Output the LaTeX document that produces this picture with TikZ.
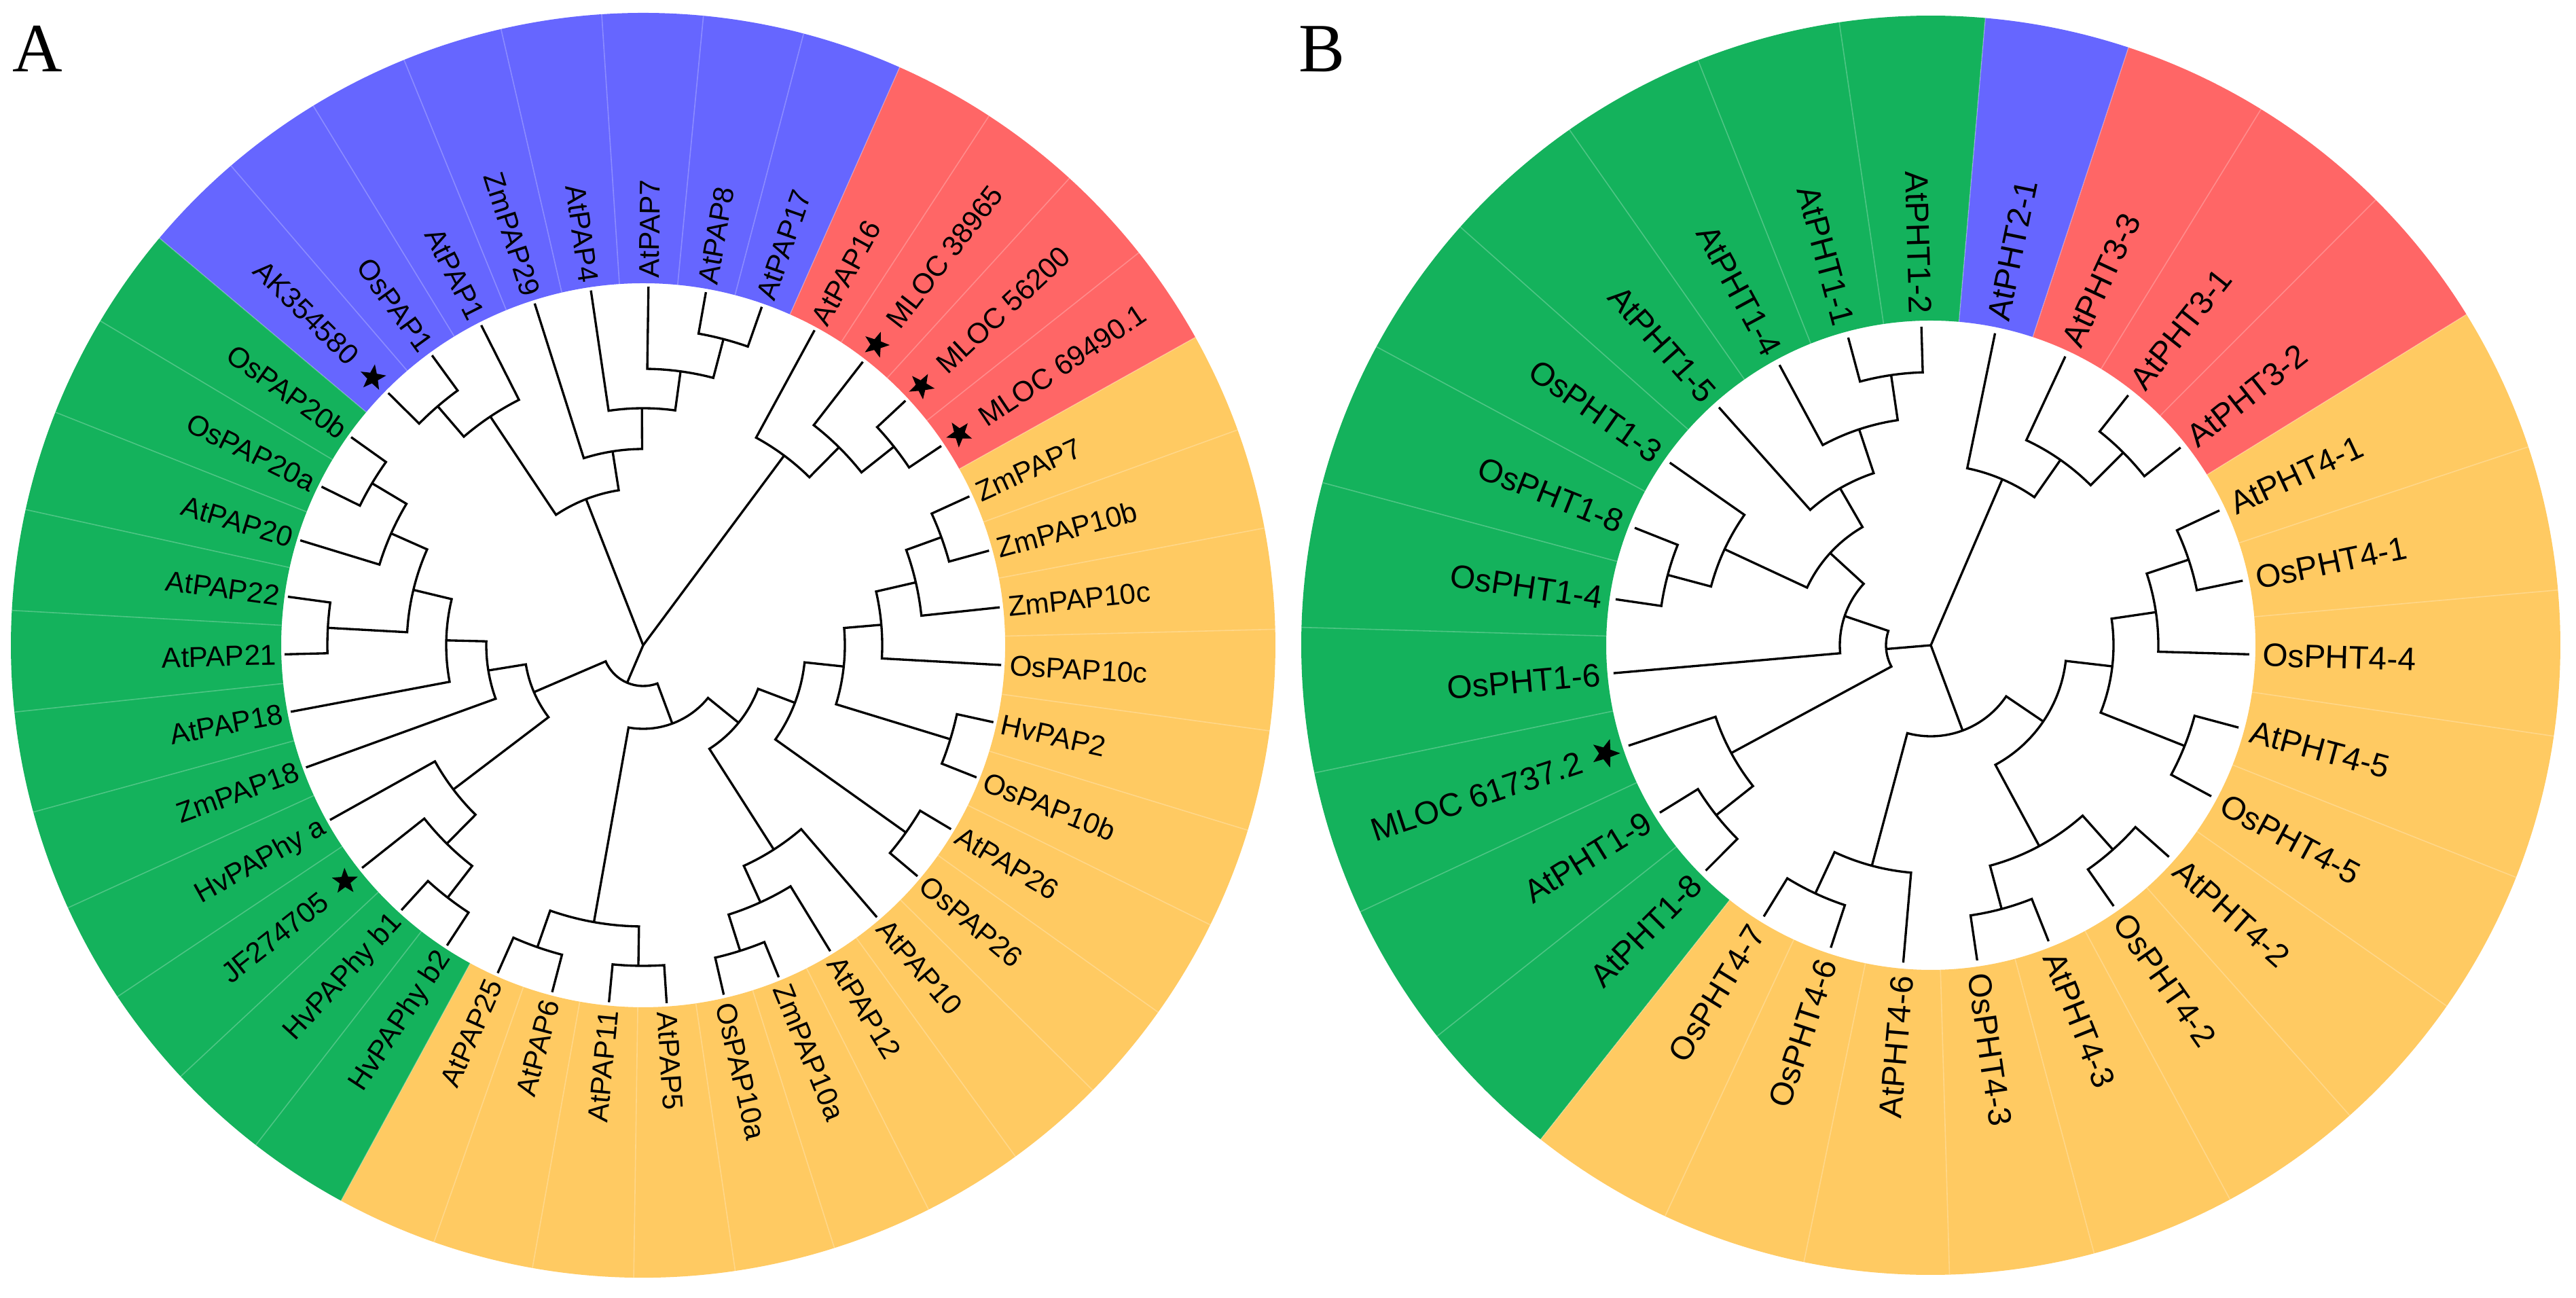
\documentclass[tikz,border=0pt]{standalone}
\usepackage{fontspec}
\newfontfamily\labfont{Liberation Sans}
\newfontfamily\panfont{Liberation Serif}
\usetikzlibrary{shapes.geometric}
\definecolor{cBlue}{RGB}{102,102,255}
\definecolor{cRed}{RGB}{255,102,102}
\definecolor{cYel}{RGB}{255,202,98}
\definecolor{cGrn}{RGB}{20,178,92}
\tikzset{
  br/.style={line width=0.95pt, draw=black, line join=miter},
  sepline/.style={draw=white, draw opacity=0.25, line width=0.45pt},
  labA/.style={font=\labfont\fontsize{12.0}{14}\selectfont, inner sep=0pt, text height=8.6pt, text depth=0pt},
  labB/.style={font=\labfont\fontsize{13.6}{15}\selectfont, inner sep=0pt, text height=9.7pt, text depth=0pt},
  mystar/.style={star, star points=5, star point ratio=2.4, fill=black, draw=none, inner sep=0pt, minimum size=0.40cm},
  panel/.style={font=\panfont\fontsize{29}{32}\selectfont, inner sep=0pt, anchor=base west}
}
% clade: radius, angle1, r1, angle2, r2
\newcommand{\cl}[5]{\draw[br] (#2:#3) -- (#2:#1) arc[start angle=#2, end angle=#4, radius=#1] -- (#4:#5);}
% sector: colour, a1, a2, rin, rout
\newcommand{\sector}[5]{\fill[#1] (#2:#4) arc[start angle=#2, end angle=#3, radius=#4] -- (#3:#5) arc[start angle=#3, end angle=#2, radius=#5] -- cycle;}
% label: name, angle, radius, text, style
\newcommand{\lbl}[5]{%
  \pgfmathsetmacro\cosv{cos(#2)}%
  \ifdim\cosv pt<0pt
    \pgfmathsetmacro\rr{#2+180}%
    \node[#5,anchor=east,rotate=\rr] (#1) at (#2:#3) {#4};
  \else
    \node[#5,anchor=west,rotate=#2] (#1) at (#2:#3) {#4};
  \fi}
\newcommand{\lfA}[3]{\pgfmathsetmacro\ang{135.3-9.2308*#2}\lbl{#1}{\ang}{5.40}{#3}{labA}}
\newcommand{\lfAs}[3]{\pgfmathsetmacro\ang{135.3-9.2308*#2}\node[mystar,rotate=\ang] (#1s) at (\ang:5.60) {};\lbl{#1}{\ang}{5.98}{#3}{labA}}
\newcommand{\lfB}[3]{\pgfmathsetmacro\ang{91.7-13.3333*#2}\lbl{#1}{\ang}{4.88}{#3}{labB}}
\newcommand{\lfBs}[3]{\pgfmathsetmacro\ang{91.7-13.3333*#2}\node[mystar,minimum size=0.44cm,rotate=\ang] (#1s) at (\ang:5.05) {};\lbl{#1}{\ang}{5.42}{#3}{labB}}
\def\TA{5.28}
\def\TB{4.69}
\begin{document}
\begin{tikzpicture}
\useasboundingbox (0,0) rectangle (37.93,19.10);
\fill[white] (0,0) rectangle (37.93,19.10);
\node[panel] (pA) at (0.18,18.04) {A};
\node[panel] (pB) at (19.12,18.04) {B};
% ================= TREE A =================
\begin{scope}[shift={(9.47,9.60)}]
\sector{cBlue}{139.915}{66.065}{5.33}{9.31}
\sector{cRed}{66.065}{29.145}{5.33}{9.31}
\sector{cYel}{29.145}{-118.545}{5.33}{9.31}
\sector{cGrn}{-118.545}{-220.085}{5.33}{9.31}
\foreach \k in {0,...,38} {\pgfmathsetmacro\a{139.915-9.2308*\k}\draw[sepline] (\a:5.33) -- (\a:9.31);}
% blue
\cl{4.64}{135.30}{\TA}{126.07}{\TA}
\cl{4.05}{130.685}{4.64}{116.84}{\TA}
\cl{4.66}{79.92}{\TA}{70.68}{\TA}
\cl{4.07}{89.15}{\TA}{75.30}{4.66}
\cl{3.49}{98.38}{\TA}{82.225}{4.07}
\cl{2.89}{107.61}{\TA}{90.30}{3.49}
\cl{2.31}{123.76}{4.05}{98.955}{2.89}
% red
\cl{4.71}{42.99}{\TA}{33.76}{\TA}
\cl{4.10}{52.22}{\TA}{38.375}{4.71}
\cl{3.48}{61.45}{\TA}{45.30}{4.10}
% yellow
\cl{4.67}{24.53}{\TA}{15.30}{\TA}
\cl{4.12}{19.915}{4.67}{6.07}{\TA}
\cl{3.52}{12.99}{4.12}{-3.16}{\TA}
\cl{4.73}{-12.39}{\TA}{-21.62}{\TA}
\cl{2.97}{4.915}{3.52}{-17.005}{4.73}
\cl{4.75}{-30.85}{\TA}{-40.09}{\TA}
\cl{2.39}{-6.045}{2.97}{-35.47}{4.75}
\cl{4.72}{-67.78}{\TA}{-77.01}{\TA}
\cl{4.16}{-58.55}{\TA}{-72.395}{4.72}
\cl{3.57}{-49.32}{\TA}{-65.47}{4.16}
\cl{1.81}{-20.76}{2.39}{-57.395}{3.57}
\cl{4.72}{-86.24}{\TA}{-95.47}{\TA}
\cl{4.71}{-104.70}{\TA}{-113.93}{\TA}
\cl{4.14}{-90.855}{4.72}{-109.315}{4.71}
\cl{1.23}{-39.08}{1.81}{-100.085}{4.14}
% green
\cl{4.70}{-123.16}{\TA}{-132.39}{\TA}
\cl{4.11}{-127.775}{4.70}{-141.62}{\TA}
\cl{3.51}{-134.70}{4.11}{-150.85}{\TA}
\cl{4.65}{-206.24}{\TA}{-215.47}{\TA}
\cl{4.06}{-197.01}{\TA}{-210.855}{4.65}
\cl{4.65}{-178.55}{\TA}{-187.78}{\TA}
\cl{3.48}{-183.165}{4.65}{-203.93}{4.06}
\cl{2.90}{-169.31}{\TA}{-193.55}{3.48}
\cl{2.31}{-160.08}{\TA}{-181.43}{2.90}
\cl{1.75}{-142.775}{3.51}{-170.755}{2.31}
\cl{0.60}{-69.58}{1.23}{-156.765}{1.75}
% root
\coordinate (rootA) at (0,0);
\draw[br] (rootA) -- (111.36:2.31);
\draw[br] (rootA) -- (53.375:3.48);
\draw[br] (rootA) -- (-113.17:0.60);
% labels
\lfAs{a0}{0}{AK354580}
\lfA{a1}{1}{OsPAP1}
\lfA{a2}{2}{AtPAP1}
\lfA{a3}{3}{ZmPAP29}
\lfA{a4}{4}{AtPAP4}
\lfA{a5}{5}{AtPAP7}
\lfA{a6}{6}{AtPAP8}
\lfA{a7}{7}{AtPAP17}
\lfA{a8}{8}{AtPAP16}
\lfAs{a9}{9}{MLOC 38965}
\lfAs{a10}{10}{MLOC 56200}
\lfAs{a11}{11}{MLOC 69490.1}
\lfA{a12}{12}{ZmPAP7}
\lfA{a13}{13}{ZmPAP10b}
\lfA{a14}{14}{ZmPAP10c}
\lfA{a15}{15}{OsPAP10c}
\lfA{a16}{16}{HvPAP2}
\lfA{a17}{17}{OsPAP10b}
\lfA{a18}{18}{AtPAP26}
\lfA{a19}{19}{OsPAP26}
\lfA{a20}{20}{AtPAP10}
\lfA{a21}{21}{AtPAP12}
\lfA{a22}{22}{ZmPAP10a}
\lfA{a23}{23}{OsPAP10a}
\lfA{a24}{24}{AtPAP5}
\lfA{a25}{25}{AtPAP11}
\lfA{a26}{26}{AtPAP6}
\lfA{a27}{27}{AtPAP25}
\lfA{a28}{28}{HvPAPhy b2}
\lfA{a29}{29}{HvPAPhy b1}
\lfAs{a30}{30}{JF274705}
\lfA{a31}{31}{HvPAPhy a}
\lfA{a32}{32}{ZmPAP18}
\lfA{a33}{33}{AtPAP18}
\lfA{a34}{34}{AtPAP21}
\lfA{a35}{35}{AtPAP22}
\lfA{a36}{36}{AtPAP20}
\lfA{a37}{37}{OsPAP20a}
\lfA{a38}{38}{OsPAP20b}
\end{scope}
% ================= TREE B =================
\begin{scope}[shift={(28.43,9.60)}]
\sector{cGrn}{85.033}{231.70}{4.78}{9.27}
\sector{cBlue}{85.033}{71.70}{4.78}{9.27}
\sector{cRed}{71.70}{31.70}{4.78}{9.27}
\sector{cYel}{31.70}{-128.30}{4.78}{9.27}
\foreach \k in {0,...,26} {\pgfmathsetmacro\a{98.367-13.3333*\k}\draw[sepline] (\a:4.78) -- (\a:9.27);}
% green
\cl{4.02}{91.70}{\TB}{105.03}{\TB}
\cl{3.35}{98.365}{4.02}{118.37}{\TB}
\cl{2.67}{108.3675}{3.35}{131.70}{\TB}
\cl{4.01}{158.37}{\TB}{171.70}{\TB}
\cl{3.35}{145.03}{\TB}{165.035}{4.01}
\cl{2.01}{120.03}{2.67}{155.03}{3.35}
\cl{1.34}{137.53}{2.01}{185.03}{\TB}
\cl{4.03}{211.70}{\TB}{225.03}{\TB}
\cl{3.34}{198.37}{\TB}{218.365}{4.03}
\cl{0.66}{161.28}{1.34}{208.37}{3.34}
% top
\cl{4.01}{38.37}{\TB}{51.70}{\TB}
\cl{3.33}{45.035}{4.01}{65.03}{\TB}
\cl{2.66}{55.03}{3.33}{78.37}{\TB}
% yellow
\cl{4.00}{11.70}{\TB}{25.03}{\TB}
\cl{3.35}{-1.63}{\TB}{18.365}{4.00}
\cl{4.02}{-28.30}{\TB}{-14.97}{\TB}
\cl{2.69}{-21.635}{4.02}{8.3675}{3.35}
\cl{4.03}{-54.97}{\TB}{-41.63}{\TB}
\cl{4.02}{-81.63}{\TB}{-68.30}{\TB}
\cl{3.36}{-74.965}{4.02}{-48.30}{4.03}
\cl{2.00}{-61.6325}{3.36}{-6.63}{2.69}
\cl{4.03}{-121.63}{\TB}{-108.30}{\TB}
\cl{3.36}{-114.965}{4.03}{-94.97}{\TB}
\cl{1.34}{-104.97}{3.36}{-34.13}{2.00}
% root
\coordinate (rootB) at (0,0);
\draw[br] (rootB) -- (66.70:2.66);
\draw[br] (rootB) -- (184.825:0.66);
\draw[br] (rootB) -- (-69.55:1.34);
% labels
\lfB{b0}{0}{AtPHT1-2}
\lfB{b1}{1}{AtPHT2-1}
\lfB{b2}{2}{AtPHT3-3}
\lfB{b3}{3}{AtPHT3-1}
\lfB{b4}{4}{AtPHT3-2}
\lfB{b5}{5}{AtPHT4-1}
\lfB{b6}{6}{OsPHT4-1}
\lfB{b7}{7}{OsPHT4-4}
\lfB{b8}{8}{AtPHT4-5}
\lfB{b9}{9}{OsPHT4-5}
\lfB{b10}{10}{AtPHT4-2}
\lfB{b11}{11}{OsPHT4-2}
\lfB{b12}{12}{AtPHT4-3}
\lfB{b13}{13}{OsPHT4-3}
\lfB{b14}{14}{AtPHT4-6}
\lfB{b15}{15}{OsPHT4-6}
\lfB{b16}{16}{OsPHT4-7}
\lfB{b17}{17}{AtPHT1-8}
\lfB{b18}{18}{AtPHT1-9}
\lfBs{b19}{19}{MLOC 61737.2}
\lfB{b20}{20}{OsPHT1-6}
\lfB{b21}{21}{OsPHT1-4}
\lfB{b22}{22}{OsPHT1-8}
\lfB{b23}{23}{OsPHT1-3}
\lfB{b24}{24}{AtPHT1-5}
\lfB{b25}{25}{AtPHT1-4}
\lfB{b26}{26}{AtPHT1-1}
\end{scope}
\end{tikzpicture}
\end{document}
